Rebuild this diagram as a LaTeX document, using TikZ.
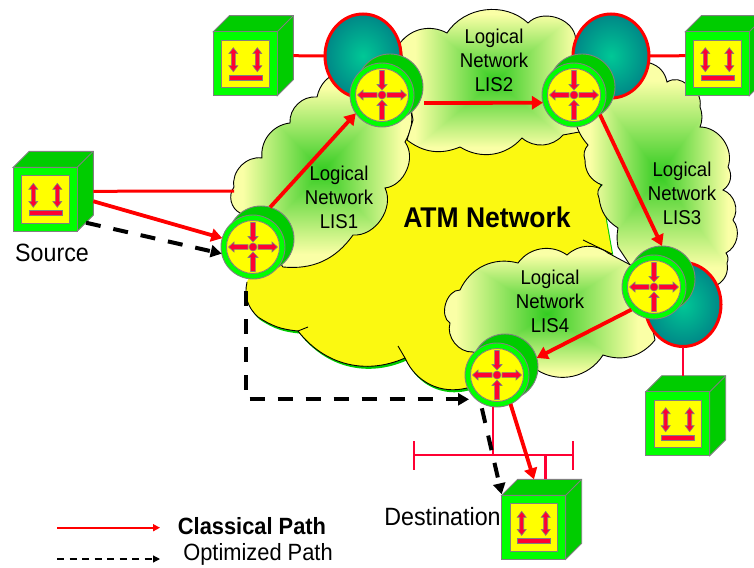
\documentclass[tikz,border=0pt]{standalone}
\usepackage{fontspec}
\setmainfont{Liberation Sans}
\usetikzlibrary{arrows.meta,shapes.geometric,calc}
\definecolor{cboxg}{RGB}{0,204,0}
\definecolor{cring}{RGB}{0,255,0}
\definecolor{cyel}{RGB}{255,255,0}
\definecolor{cmain}{RGB}{251,249,17}
\definecolor{crim}{RGB}{255,0,51}
\definecolor{cgray}{RGB}{128,128,128}
\definecolor{tealin}{RGB}{0,200,150}
\definecolor{tealout}{RGB}{0,135,135}
\pgfdeclarefunctionalshading{cloudrect}{\pgfpointorigin}{\pgfpoint{100bp}{100bp}}{}{
  50 sub abs 21 div exch 50 sub abs 21 div
  2 copy lt {exch} if pop
  dup 1 gt {pop 1} if
  dup 0.78 mul 0.2 add exch dup 0.2 mul 0.8 add exch 0.52 mul 0.13 add
}
\tikzset{
  lobe/.style={bend left=#1},
  cloudshape/.style={draw=black,line width=.9pt,shading=cloudrect},
  boxanchor/.style={rectangle,inner sep=0,outer sep=0,minimum width=80pt,minimum height=80pt},
  routerback/.style={circle,inner sep=0,outer sep=0,minimum size=66pt,draw=cgray,line width=.9pt,fill=cboxg},
  routerfront/.style={circle,inner sep=0,outer sep=0,minimum size=64pt,draw=cgray,line width=.9pt,fill=cring},
  tealdisc/.style={ellipse,inner sep=0,outer sep=0,minimum width=76pt,minimum height=84pt,draw=red,line width=3pt,inner color=tealin,outer color=tealout},
  redarrow/.style={draw=red,line width=3.8pt,-{Triangle[length=11pt,width=13pt]}},
  blackarrow/.style={draw=black,line width=4pt,dash pattern=on 15pt off 13pt,-{Triangle[length=11pt,width=12pt]}},
  linkline/.style={draw=red,line width=3pt},
  busline/.style={draw=crim,line width=2.6pt},
  icon/.style={fill=crim,draw=cgray,line width=.6pt},
  txt/.style={inner sep=0,outer sep=0,xscale=.93,transform shape,align=center,font=\fontsize{20}{24}\selectfont},
}
\newcommand{\mybox}[3]{%
  \node[boxanchor] (#1) at (#2+40,#3+24) {};
  \begin{scope}[shift={(#2,#3)}]
    \fill[cboxg,draw=cgray,line width=.9pt] (0,0)--(16,-16)--(80,-16)--(80,48)--(64,64)--(64,0)--cycle;
    \draw[cgray,line width=.9pt] (64,0)--(80,-16);
    \fill[cring,draw=cgray,line width=.9pt] (0,0) rectangle (64,64);
    \fill[cyel,draw=cgray,line width=.9pt] (8.3,8.3) rectangle (55.7,55.7);
    \foreach \xx in {20,44}{
      \filldraw[icon,shift={(\xx,0)}] (0,16)--(4.5,22)--(2,22)--(2,34)--(4.5,34)--(0,40)--(-4.5,34)--(-2,34)--(-2,22)--(-4.5,22)--cycle;
    }
    \filldraw[icon] (16,43.3) rectangle (49,48.3);
  \end{scope}}
\newcommand{\myrouter}[3]{%
  \node[routerback] (#1b) at (#2+8,#3-8) {};
  \node[routerfront] (#1) at (#2,#3) {};
  \begin{scope}[shift={(#2,#3)}]
    \fill[cyel,draw=cgray,line width=.9pt] (0,0) circle (26.5);
    \foreach \rr in {0,180}{
      \filldraw[icon,rotate=\rr] (5,-2.4)--(19,-2.4)--(19,-5)--(24.5,0)--(19,5)--(19,2.4)--(5,2.4)--cycle;
    }
    \foreach \rr in {90,270}{
      \filldraw[icon,rotate=\rr] (24.5,-2.4)--(10.5,-2.4)--(10.5,-5)--(5,0)--(10.5,5)--(10.5,2.4)--(24.5,2.4)--cycle;
    }
    \filldraw[icon] (0,0) circle (4);
  \end{scope}}
\begin{document}
\begin{tikzpicture}[x=1pt,y=-1pt]
\useasboundingbox (0,0) rectangle (754,567);
\clip (0,0) rectangle (754,567);

% main ATM cloud
\foreach \sx/\sy/\col in {1.5/2.5/cboxg,0/0/cmain}{
\fill[\col,shift={(\sx,\sy)}] (467,388) to[lobe=40] (405,358) to[lobe=38] (298,331) to[lobe=14] (258,317) to[lobe=30] (247,282)
  -- (300,150) -- (400,130) -- (590,130) -- (612,254) -- (640,300) -- cycle;
}
\draw[black,line width=.9pt] (467,388) to[lobe=40] (405,358) -- (398,346);
\draw[black,line width=.9pt] (405,358) to[lobe=38] (298,331) -- (308,327);
\draw[black,line width=.9pt] (298,331) to[lobe=14] (258,317) to[lobe=30] (247,282);
\draw[black,line width=.9pt] (583,240) -- (612,254);

% logical networks
\path[cloudshape] (240,213) to[lobe=50] (234,187) to[lobe=55] (262,158) to[lobe=45] (290,123) to[lobe=50] (317,97) to[lobe=30] (340,72) -- (405,95) to[lobe=30] (405,142) to[lobe=60] (385,188) to[lobe=60] (353,235) to[lobe=30] (283,267) -- cycle;
\path[cloudshape] (400,43) to[lobe=40] (447,33) to[lobe=50] (528,23) to[lobe=60] (575,35) -- (590,130) -- (563,135) to[lobe=45] (522,138) to[lobe=40] (460,147) to[lobe=30] (407,140) -- (413,120) -- cycle;
\path[cloudshape] (618,247) to[lobe=10] (618,228) to[lobe=25] (599,198) to[lobe=40] (602,185) to[lobe=35] (585,160) to[lobe=30] (588,145) to[lobe=10] (577,127) -- (600,90) -- (650,63) to[lobe=30] (667,82) to[lobe=40] (687,85) to[lobe=40] (700,107) to[lobe=20] (700,127) to[lobe=55] (728,167) to[lobe=45] (723,190) to[lobe=50] (733,220) to[lobe=50] (726,253) to[lobe=30] (727,263) to[lobe=35] (717,285) -- (640,280) -- cycle;
\path[cloudshape] (473,352) to[lobe=55] (450,323) to[lobe=75] (460,290) to[lobe=40] (518,263) to[lobe=45] (567,255) to[lobe=40] (608,253) -- (640,270) -- (655,340) to[lobe=35] (603,355) to[lobe=45] (537,370) -- (505,370) -- cycle;

% teal discs
\node[tealdisc] (t1) at (363,56) {};
\node[tealdisc] (t2) at (611,56) {};
\node[tealdisc] (t3) at (683,304.5) {};

% boxes
\mybox{src}{13.3}{167.3}
\mybox{bx1}{213.3}{31.7}
\mybox{bx2}{685.3}{31.7}
\mybox{bx3}{645.7}{391.7}
\mybox{dst}{501.7}{495.3}

% routers
\myrouter{ra}{253}{247}
\myrouter{rb}{382}{95}
\myrouter{rc}{574}{95}
\myrouter{rd}{654}{287}
\myrouter{re}{497}{375}

% labels
\node[txt] (l1) at (339,197) {Logical\\Network\\LIS1};
\node[txt] (l2) at (494,60) {Logical\\Network\\LIS2};
\node[txt] (l3) at (682,193) {Logical\\Network\\LIS3};
\node[txt] (l4) at (550,301) {Logical\\Network\\LIS4};
\node[inner sep=0,outer sep=0,xscale=.93,transform shape,font=\bfseries\fontsize{28.5}{32}\selectfont] (atm) at (487,217) {ATM Network};
\node[inner sep=0,outer sep=0,xscale=.93,transform shape,font=\fontsize{25}{28}\selectfont] (lsrc) at (52,253) {Source};
\node[inner sep=0,outer sep=0,xscale=.93,transform shape,font=\fontsize{25}{28}\selectfont] (ldst) at (442.5,517) {Destination};
\node[inner sep=0,outer sep=0,xscale=.93,transform shape,font=\bfseries\fontsize{23.5}{28}\selectfont] (lcp) at (252,526) {Classical Path};
\node[inner sep=0,outer sep=0,xscale=.93,transform shape,font=\fontsize{23.5}{28}\selectfont] (lop) at (258,554.5) {Optimized Path};

% helper end points
\coordinate (lise) at (234,191);
\coordinate (c23) at (424,103);
\coordinate (cdash) at (86,222.7);
\coordinate (c5) at (469,399.3);
\coordinate (busl) at (414,455);
\coordinate (busr) at (573,455);
\coordinate (lga) at (57,527.7);
\coordinate (lgb) at (160,527.7);
\coordinate (lgc) at (57,559);
\coordinate (lgd) at (160,559);

% plain links
\draw[linkline] (src.east) -- (lise);
\draw[linkline] (bx1.east) -- (t1.west);
\draw[linkline] (t2.east) -- (bx2.west);
\draw[busline] (t3.south) -- (t3.south |- bx3.north);
\draw[busline] (busl) -- (busr);
\draw[busline] ($(busl)+(0,-14)$) -- ($(busl)+(0,15)$);
\draw[busline] ($(busr)+(0,-14)$) -- ($(busr)+(0,15)$);
\draw[busline] (re.263) -- (re.263 |- busl);
\draw[busline] (dst.85 |- busl) -- (dst.85);

% classical path
\draw[redarrow] (src.-14) -- (ra.164);
\draw[redarrow] (rab.74) -- (rb.215);
\draw[redarrow] (c23) -- (rc.194);
\draw[redarrow] (rcb.-57) -- (rdb.90);
\draw[redarrow] (rd.225) -- (reb.16);
\draw[redarrow] (re.-65) -- (dst.101);

% optimized path
\draw[blackarrow] (cdash) -- (ra.192);
\draw[blackarrow,shorten <=13pt] (ra.257) |- (c5);
\draw[blackarrow,shorten <=6pt] (re.239) -- (dst.148);

% legend
\draw[draw=red,line width=1.6pt,-{Triangle[length=7pt,width=7pt]}] (lga) -- (lgb);
\draw[draw=black,line width=1.2pt,dash pattern=on 7pt off 5.5pt,-{Triangle[length=7pt,width=7pt]}] (lgc) -- (lgd);
\end{tikzpicture}
\end{document}
